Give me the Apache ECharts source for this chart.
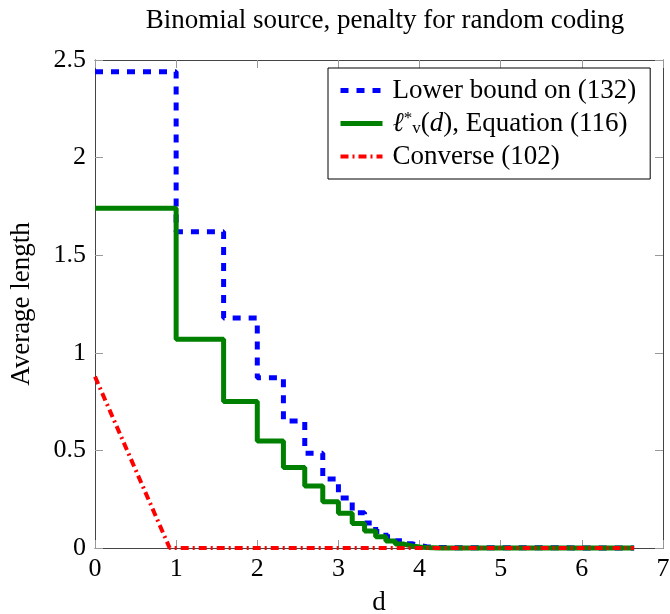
<!DOCTYPE html>
<html>
<head>
<meta charset="utf-8">
<script src="https://cdn.jsdelivr.net/npm/echarts@6/dist/echarts.min.js"></script>
<style>
  html, body { margin: 0; padding: 0; background: #fff; }
  #chart { width: 670px; height: 614px; }
</style>
</head>
<body>
<div id="chart"></div>
<script>
// step breakpoints d = log2(k), value holds until the next breakpoint
const stepD = [0, 1, 1.585, 2, 2.322, 2.585, 2.807, 3, 3.17, 3.322, 3.459, 3.585, 3.7, 3.807, 3.907, 4, 4.087, 4.17, 4.248, 6.644];
const lowerBound = [2.44, 1.62, 1.178, 0.872, 0.65, 0.486, 0.353, 0.256, 0.18, 0.128, 0.085, 0.058, 0.037, 0.022, 0.013, 0.007, 0.004, 0.002, 0, 0];
const ellStar = [1.74, 1.07, 0.75, 0.548, 0.413, 0.318, 0.237, 0.178, 0.126, 0.087, 0.058, 0.036, 0.02, 0.01, 0.005, 0.002, 0.001, 0, 0, 0];
const converseD = [0, 0.92, 6.644];
const converse = [0.878, 0, 0];

const xTicks = [0, 1, 2, 3, 4, 5, 6, 7];
const yTicks = [0, 0.5, 1, 1.5, 2, 2.5];

const SERIF = 'Liberation Serif';
const FS = 27;

const BLUE_LINE = { color: '#0000ff', width: 5, type: [8, 8] };
const GREEN_LINE = { color: '#008000', width: 5 };
const RED_LINE = { color: '#ff0000', width: 4, type: [8, 4, 2, 4] };

function pairs(xs, ys) {
  return xs.map((x, i) => [x, ys[i]]);
}

const chart = echarts.init(document.getElementById('chart'));

const axisCommon = {
  axisLine: { show: true, onZero: false, lineStyle: { color: '#444', width: 1 } },
  axisTick: { show: true, inside: true, length: 8, lineStyle: { color: '#999' } },
  splitLine: { show: false }
};

chart.setOption({
  animation: false,
  backgroundColor: '#fff',
  title: {
    text: 'Binomial source, penalty for random coding',
    left: 380,
    textAlign: 'center',
    top: 2,
    textStyle: { fontFamily: SERIF, fontWeight: 'normal', fontSize: FS, color: '#000' }
  },
  grid: { left: 95, right: 7, top: 60, bottom: 66, outerBoundsMode: 'none', containLabel: false },
  legend: {
    orient: 'vertical',
    left: 328,
    top: 68,
    padding: [9, 14, 9, 10],
    itemGap: 6,
    itemWidth: 42,
    itemHeight: 14,
    borderColor: '#000',
    borderWidth: 1,
    backgroundColor: '#fff',
    itemStyle: { opacity: 0 },
    data: [
      { name: 'lower', lineStyle: BLUE_LINE },
      { name: 'ell', lineStyle: GREEN_LINE },
      { name: 'converse', lineStyle: RED_LINE }
    ],
    formatter: function (name) {
      if (name === 'lower') return 'Lower bound on (132)';
      if (name === 'ell') return '{it|ℓ}{sup|*}{sub|v}{t|(}{it|d}{t|), Equation (116)}';
      return 'Converse (102)';
    },
    textStyle: {
      fontFamily: SERIF,
      fontSize: FS,
      color: '#000',
      padding: [0, 0, 0, 5],
      rich: {
        t: { fontFamily: SERIF, fontSize: FS, color: '#000' },
        it: { fontFamily: SERIF, fontSize: FS, fontStyle: 'italic', color: '#000' },
        sup: { fontFamily: SERIF, fontSize: 17, color: '#000', verticalAlign: 'top' },
        sub: { fontFamily: SERIF, fontSize: 17, color: '#000', verticalAlign: 'bottom' }
      }
    }
  },
  xAxis: [
    Object.assign({
      type: 'value',
      min: 0, max: 7, interval: 1,
      name: 'd',
      nameLocation: 'middle',
      nameGap: 41,
      nameTextStyle: { fontFamily: SERIF, fontSize: FS, color: '#000' },
      axisLabel: { fontFamily: SERIF, fontSize: 26, color: '#000', margin: 8,
        formatter: v => xTicks.includes(v) ? String(v) : '' }
    }, axisCommon),
    Object.assign({
      type: 'value', position: 'top',
      min: 0, max: 7, interval: 1,
      axisLabel: { show: false }
    }, axisCommon)
  ],
  yAxis: [
    Object.assign({
      type: 'value',
      min: 0, max: 2.5, interval: 0.5,
      name: 'Average length',
      nameLocation: 'middle',
      nameRotate: 90,
      nameGap: 60,
      nameTextStyle: { fontFamily: SERIF, fontSize: FS, color: '#000' },
      axisLabel: { fontFamily: SERIF, fontSize: 26, color: '#000', margin: 9,
        formatter: v => yTicks.includes(v) ? String(v) : '' }
    }, axisCommon),
    Object.assign({
      type: 'value', position: 'right',
      min: 0, max: 2.5, interval: 0.5,
      axisLabel: { show: false }
    }, axisCommon)
  ],
  series: [
    {
      name: 'lower',
      type: 'line',
      step: 'end',
      showSymbol: false,
      symbol: 'none',
      clip: false,
      color: '#0000ff',
      lineStyle: BLUE_LINE,
      data: pairs(stepD, lowerBound)
    },
    {
      name: 'ell',
      type: 'line',
      step: 'end',
      showSymbol: false,
      symbol: 'none',
      clip: false,
      color: '#008000',
      lineStyle: GREEN_LINE,
      data: pairs(stepD, ellStar)
    },
    {
      name: 'converse',
      type: 'line',
      showSymbol: false,
      symbol: 'none',
      clip: false,
      color: '#ff0000',
      lineStyle: RED_LINE,
      data: pairs(converseD, converse)
    }
  ]
});
</script>
</body>
</html>
